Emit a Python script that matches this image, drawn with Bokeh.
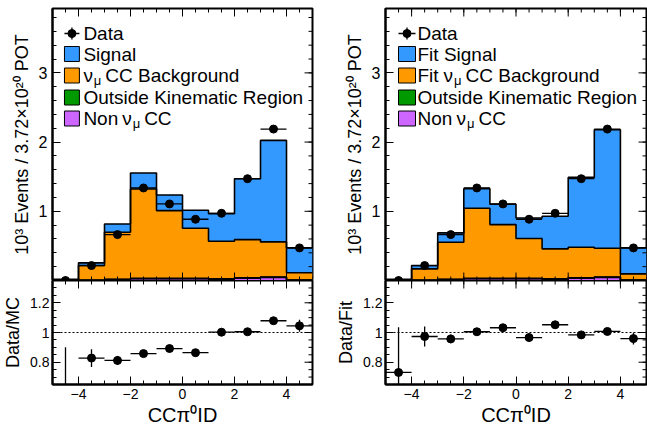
import numpy as np
from bokeh.plotting import figure
from bokeh.layouts import gridplot
from bokeh.models import Range1d, FixedTicker, Span
from bokeh.core.properties import value
from bokeh.embed import file_html
from bokeh.resources import INLINE

# ---------------- data ----------------
bin_edges = [-5, -4, -3, -2, -1, 0, 1, 2, 3, 4, 5]
data_vals = [0.0, 0.216, 0.663, 1.337, 1.106, 0.885, 0.971, 1.471, 2.188, 0.471]
data_err = [0.005, 0.012, 0.02, 0.025, 0.025, 0.02, 0.02, 0.025, 0.03, 0.015]

non_numu_cc = [0.0, 0.003, 0.012, 0.025, 0.025, 0.025, 0.020, 0.035, 0.045, 0.005]
outside_kin = [0.0, 0.002, 0.004, 0.005, 0.005, 0.005, 0.005, 0.005, 0.006, 0.003]
mc_background = [0.0, 0.211, 0.681, 1.292, 0.980, 0.725, 0.542, 0.551, 0.507, 0.103]
mc_signal = [0.0, 0.039, 0.120, 0.231, 0.226, 0.259, 0.399, 0.880, 1.466, 0.360]
fit_background = [0.0, 0.163, 0.537, 1.013, 0.778, 0.576, 0.432, 0.441, 0.415, 0.088]
fit_signal = [0.0, 0.048, 0.135, 0.284, 0.293, 0.298, 0.471, 1.009, 1.712, 0.375]

ratio_mc = [0.50, 0.828, 0.812, 0.858, 0.892, 0.864, 1.002, 1.005, 1.079, 1.045]
ratio_mc_err = [0.40, 0.06, 0.03, 0.02, 0.02, 0.02, 0.025, 0.02, 0.015, 0.04]
ratio_fit = [0.731, 0.973, 0.957, 1.005, 1.032, 0.966, 1.052, 0.984, 1.007, 0.959]
ratio_fit_err = [0.305, 0.068, 0.03, 0.025, 0.025, 0.025, 0.025, 0.02, 0.015, 0.04]

x_ticks = [-4, -2, 0, 2, 4]
x_tick_labels = ["\u22124", "\u22122", "0", "2", "4"]
y_ticks = [1, 2, 3]
ratio_ticks = [0.8, 1, 1.2]
ratio_tick_labels = ["0.8", "1", "1.2"]

# ---------------- styling ----------------
FONT = "Liberation Sans"
FW = 261
TOP_FH = 272
BOT_FH = 104
XR = (-5, 5)
YR = (0, 3.93)
RR = (0.65, 1.35)
C_SIG = "#3399ff"
C_BKG = "#ff9900"
C_OUT = "#009900"
C_NON = "#cc66ff"
MAJ_LEN = 8
MIN_LEN = 4

edges = np.array(bin_edges, dtype=float)
centers = 0.5 * (edges[:-1] + edges[1:])
half = 0.5 * (edges[1:] - edges[:-1])

x_minor = [round(-5 + 0.5 * k, 2) for k in range(21)]
y_minor = [round(0.2 * k, 2) for k in range(20)]
r_minor = [round(0.65 + 0.05 * k, 2) for k in range(15)]


def style_axis(ax, ticks, minor, overrides=None, size="16px"):
    ax.ticker = FixedTicker(ticks=ticks, minor_ticks=minor)
    ax.major_tick_in = MAJ_LEN
    ax.major_tick_out = 0
    ax.minor_tick_in = MIN_LEN
    ax.minor_tick_out = 0
    ax.axis_line_color = "black"
    ax.axis_line_width = 2
    ax.major_tick_line_color = "black"
    ax.minor_tick_line_color = "black"
    ax.major_label_text_font = FONT
    ax.major_label_text_font_size = size
    ax.major_label_text_color = "black"
    ax.axis_label_text_color = "black"
    ax.axis_label_text_font = FONT
    ax.axis_label_text_font_style = "normal"
    if overrides:
        ax.major_label_overrides = overrides


def edge_ticks(p, side, majors, minors, yr, fh):
    """Unlabelled ROOT-style tick marks on the frame edges (drawn as segments)."""
    kx = (XR[1] - XR[0]) / FW
    ky = (yr[1] - yr[0]) / fh
    for ticks, ln in [(majors, MAJ_LEN), (minors, MIN_LEN)]:
        t = np.array(ticks, dtype=float)
        if side == "right":
            p.segment(x0=np.full_like(t, XR[1]), x1=np.full_like(t, XR[1] - ln * kx), y0=t, y1=t,
                      line_color="black", line_width=1)
        elif side == "above":
            p.segment(x0=t, x1=t, y0=np.full_like(t, yr[1]), y1=np.full_like(t, yr[1] - ln * ky),
                      line_color="black", line_width=1)
        elif side == "below":
            p.segment(x0=t, x1=t, y0=np.full_like(t, yr[0]), y1=np.full_like(t, yr[0] + ln * ky),
                      line_color="black", line_width=1)


def base_fig(width, height, yr, bl, br, bt, bb, xaxis):
    p = figure(width=width, height=height, x_range=Range1d(*XR), y_range=Range1d(*yr),
               output_backend="svg", toolbar_location=None,
               x_axis_location="below" if xaxis else None,
               min_border_left=bl, min_border_right=br, min_border_top=bt, min_border_bottom=bb)
    p.grid.visible = False
    p.outline_line_color = "black"
    p.outline_line_width = 2
    p.background_fill_color = "white"
    p.border_fill_color = "white"
    return p


def make_top(width, bl, br, signal, background, leg):
    p = base_fig(width, 8 + TOP_FH, YR, bl, br, 8, 0, False)
    l0 = np.zeros(len(centers))
    l1 = l0 + np.array(non_numu_cc)
    l2 = l1 + np.array(outside_kin)
    l3 = l2 + np.array(background)
    l4 = l3 + np.array(signal)
    for lo, hi, col in [(l0, l1, C_NON), (l1, l2, C_OUT), (l2, l3, C_BKG), (l3, l4, C_SIG)]:
        p.varea_step(x=edges, y1=np.append(lo, lo[-1]), y2=np.append(hi, hi[-1]),
                     step_mode="after", fill_color=col)
    for lev in [l1, l2, l3, l4]:
        p.step(x=edges, y=np.append(lev, lev[-1]), mode="after", line_color="black", line_width=1.6)
    d = np.array(data_vals)
    e = np.array(data_err)
    p.segment(x0=centers - half, x1=centers + half, y0=d, y1=d, line_color="black", line_width=1.3)
    p.segment(x0=centers, x1=centers, y0=d - e, y1=d + e, line_color="black", line_width=1.3)
    p.scatter(x=centers, y=d, size=8, color="black")

    ax = p.yaxis[0]
    style_axis(ax, y_ticks, y_minor, size="16px")
    ax.major_label_standoff = 5
    ax.axis_label = "10\u00b3 Events / 3.72\u00d710\u00b2\u2070 POT"
    ax.axis_label_text_font_size = "18px"
    ax.axis_label_standoff = 4
    edge_ticks(p, "right", y_ticks, y_minor, YR, TOP_FH)
    edge_ticks(p, "above", x_ticks, x_minor, YR, TOP_FH)
    edge_ticks(p, "below", x_ticks, x_minor, YR, TOP_FH)

    # legend (pixel layout converted to data coordinates)
    kx = (XR[1] - XR[0]) / FW
    ky = (YR[1] - YR[0]) / TOP_FH

    def px(xp):
        return XR[0] + xp * kx

    def py(yp):
        return YR[1] - yp * ky

    rows = leg["rows"]
    sx0, sx1 = leg["sw0"], leg["sw1"]
    r0 = rows[0]
    mx = 0.5 * (sx0 + sx1)
    p.segment(x0=[px(sx0)], x1=[px(sx1)], y0=[py(r0)], y1=[py(r0)], line_color="black", line_width=1.3)
    p.segment(x0=[px(mx)], x1=[px(mx)], y0=[py(r0 - 6)], y1=[py(r0 + 6)], line_color="black", line_width=1.3)
    p.scatter(x=[px(mx)], y=[py(r0)], size=8, color="black")
    for r, col in zip(rows[1:], [C_SIG, C_BKG, C_OUT, C_NON]):
        p.quad(left=[px(sx0)], right=[px(sx1)], bottom=[py(r + 7.5)], top=[py(r - 7.5)],
               fill_color=col, line_color="black", line_width=1)
    for (xp, r, txt, big) in leg["texts"]:
        dy = 0 if big else 5
        p.text(x=[px(xp)], y=[py(r + dy)], text=[txt], text_font=value(FONT),
               text_font_size="19px" if big else "13px", text_baseline="middle",
               text_align="left", text_color="black")
    return p


def make_bottom(width, bl, br, ratio, ratio_err, ylabel):
    p = base_fig(width, BOT_FH + 45, RR, bl, br, 0, 45, True)
    p.add_layout(Span(location=1, dimension="width", line_color="black", line_width=1,
                      line_dash="2 2"))
    r = np.array(ratio)
    e = np.array(ratio_err)
    p.segment(x0=centers - half, x1=centers + half, y0=r, y1=r, line_color="black", line_width=1.3)
    p.segment(x0=centers, x1=centers, y0=r - e, y1=r + e, line_color="black", line_width=1.3)
    p.scatter(x=centers, y=r, size=8, color="black")

    ay = p.yaxis[0]
    style_axis(ay, ratio_ticks, r_minor,
               overrides={t: l for t, l in zip(ratio_ticks, ratio_tick_labels)}, size="14px")
    ay.major_label_standoff = 3
    ay.axis_label = ylabel
    ay.axis_label_text_font_size = "18px"
    ay.axis_label_standoff = 4
    axx = p.xaxis[0]
    style_axis(axx, x_ticks, x_minor,
               overrides={t: l for t, l in zip(x_ticks, x_tick_labels)}, size="14px")
    axx.major_label_standoff = 4
    axx.axis_label = "CC\u03c0\u2070ID"
    axx.axis_label_text_font_size = "20px"
    axx.axis_label_standoff = 2
    edge_ticks(p, "right", ratio_ticks, r_minor, RR, BOT_FH)
    edge_ticks(p, "above", x_ticks, x_minor, RR, BOT_FH)
    return p


rows = [25, 45.5, 67, 89, 110]
leg_left = dict(rows=rows, sw0=12, sw1=27, texts=[
    (31, rows[0], "Data", True),
    (31, rows[1], "Signal", True),
    (31, rows[2], "\u03bd", True), (41.5, rows[2], "\u03bc", False), (53, rows[2], "CC Background", True),
    (31, rows[3], "Outside Kinematic Region", True),
    (31, rows[4], "Non", True), (70, rows[4], "\u03bd", True), (80.5, rows[4], "\u03bc", False),
    (92, rows[4], "CC", True),
])
leg_right = dict(rows=rows, sw0=13, sw1=30, texts=[
    (32, rows[0], "Data", True),
    (32, rows[1], "Fit Signal", True),
    (32, rows[2], "Fit", True), (58, rows[2], "\u03bd", True), (68.5, rows[2], "\u03bc", False),
    (80, rows[2], "CC Background", True),
    (32, rows[3], "Outside Kinematic Region", True),
    (32, rows[4], "Non", True), (71, rows[4], "\u03bd", True), (81.5, rows[4], "\u03bc", False),
    (93, rows[4], "CC", True),
])

tl = make_top(330, 51, 18, mc_signal, mc_background, leg_left)
tr = make_top(317, 55, 1, fit_signal, fit_background, leg_right)
bl = make_bottom(330, 51, 18, ratio_mc, ratio_mc_err, "Data/MC")
br = make_bottom(317, 55, 1, ratio_fit, ratio_fit_err, "Data/Fit")

p = gridplot([[tl, tr], [bl, br]], toolbar_location=None)

open("out.html", "w").write(file_html(p, INLINE))
